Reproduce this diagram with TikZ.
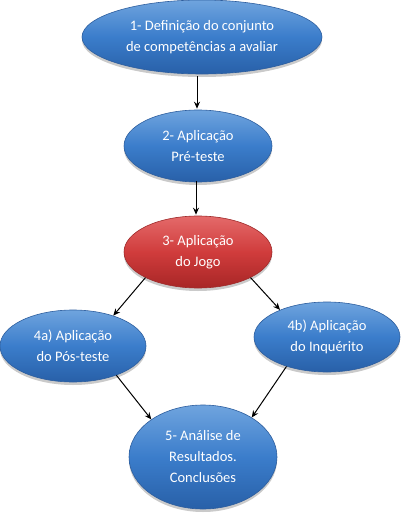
\documentclass[tikz,border=0pt]{standalone}
\usepackage{fontspec}
\setmainfont{Carlito}
\usetikzlibrary{shapes.geometric,arrows.meta,shadows}
\definecolor{bluetop}{HTML}{6FA4DE}
\definecolor{bluemid}{HTML}{3B7DCB}
\definecolor{bluebot}{HTML}{2860A8}
\definecolor{blueedge}{HTML}{2D5E9E}
\definecolor{redtop}{HTML}{E46A6A}
\definecolor{redmid}{HTML}{D03C3C}
\definecolor{redbot}{HTML}{A82626}
\definecolor{rededge}{HTML}{9E2A2A}
\tikzset{
  stage/.style={ellipse, draw=blueedge, line width=0.6pt, top color=bluetop, bottom color=bluebot, middle color=bluemid,
    text=white, font=\fontsize{14.5}{21}\selectfont, align=center, inner sep=0pt,
    drop shadow={shadow xshift=0pt, shadow yshift=-3pt, opacity=0.35, fill=black!60}},
  redstage/.style={stage, draw=rededge, top color=redtop, bottom color=redbot, middle color=redmid},
  arr/.style={-{Stealth[length=7pt,width=6pt]}, line width=1pt, black}
}
\begin{document}
\begin{tikzpicture}[x=1pt,y=-1pt]
\useasboundingbox (0,0) rectangle (401,514);
\node[stage, minimum width=240pt, minimum height=74pt] (n1) at (202,37) {1- Definição do conjunto\\de competências a avaliar};
\node[stage, minimum width=148pt, minimum height=72pt] (n2) at (198,146) {2- Aplicação\\Pré-teste};
\node[redstage, minimum width=148pt, minimum height=72pt] (n3) at (198,252) {3- Aplicação\\do Jogo};
\node[stage, minimum width=146pt, minimum height=72pt] (n4a) at (73,346) {4a) Aplicação\\do Pós-teste};
\node[stage, minimum width=146pt, minimum height=70pt] (n4b) at (327,337) {4b) Aplicação\\do Inquérito};
\node[stage, minimum width=148pt, minimum height=104pt] (n5) at (203,457) {5- Análise de\\Resultados.\\Conclusões};
\draw[arr] (n2.north |- n1.south) ++(-1,2) -- ([xshift=-1pt,yshift=1pt]n2.north);
\draw[arr] ([xshift=-2pt,yshift=1pt]n2.south) -- ([xshift=-2pt,yshift=1pt]n3.north);
\draw[arr] (n3.206) -- (n4a.37);
\draw[arr] (n3.334) -- (n4b.150);
\draw[arr] (n4a.326) -- (n5.144);
\draw[arr] (n4b.216) -- (n5.39);
\end{tikzpicture}
\end{document}
